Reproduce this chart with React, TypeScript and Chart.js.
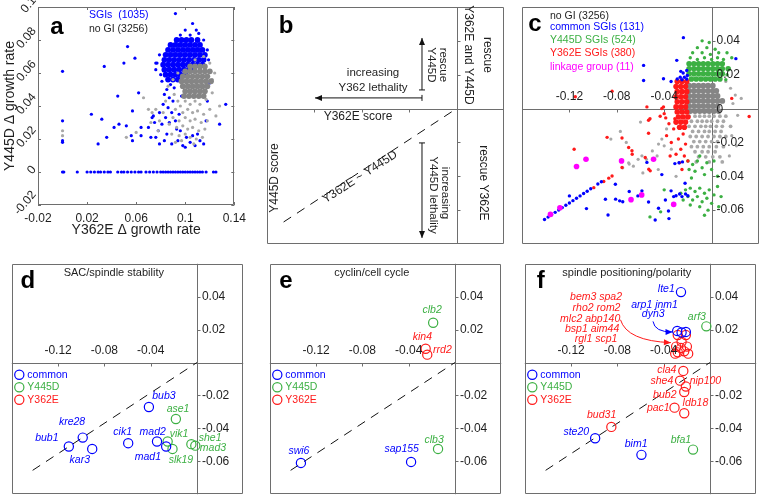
import React, { useEffect, useRef } from "react";
import { Chart, registerables } from "chart.js";

Chart.register(...registerables);

const FONT = '"Liberation Sans", Arial, Helvetica, sans-serif';
const BLUE = "#0000ff";
const GREEN = "#3cb043";
const RED = "#ff1a1a";
const MAGENTA = "#ff00ff";
const GRAY = "#858585";
const GRAY_LIGHT = "#a8a8a8";
const AXIS = "#6e6e6e";
const INK = "#1e1e1e";

type Row = [number, number[]];
type XY = [number, number];
type Gene = [string, number, number];
type Label = [string, number, number];

// ---------------- panel a ----------------
const aXTicks = [-0.02, 0.02, 0.06, 0.1, 0.14];
const aXTickLabels = ["-0.02", "0.02", "0.06", "0.1", "0.14"];
const aYTicks = [-0.02, 0, 0.02, 0.04, 0.06, 0.08, 0.1];
const aYTickLabels = ["-0.02", "0", "0.02", "0.04", "0.06", "0.08", "0.1"];
const aLegendLabels = ["SGIs  (1035)", "no GI (3256)"];
const aXTitle = "Y362E \u0394 growth rate";
const aYTitle = "Y445D \u0394 growth rate";

const aSgiCoreRows: Row[] = [
  [0.08, [0.093, 0.097, 0.101, 0.105, 0.11]],
  [0.077, [0.088, 0.092, 0.096, 0.1, 0.104, 0.108, 0.112]],
  [0.074, [0.086, 0.09, 0.094, 0.098, 0.102, 0.106, 0.11, 0.114]],
  [0.071, [0.084, 0.088, 0.092, 0.096, 0.1, 0.104, 0.108, 0.112, 0.116]],
  [0.068, [0.083, 0.087, 0.091, 0.095, 0.099, 0.103, 0.107, 0.111, 0.115]],
  [0.065, [0.082, 0.086, 0.09, 0.094, 0.098, 0.102, 0.106, 0.11, 0.114]],
  [0.062, [0.083, 0.087, 0.091, 0.095, 0.099, 0.103, 0.107]],
  [0.059, [0.084, 0.088, 0.092, 0.096, 0.1]],
  [0.056, [0.086, 0.09, 0.094]],
];
const aSgiZeroRowX = [
  0.0, 0.001, 0.012, 0.02, 0.023, 0.026, 0.029, 0.031, 0.034, 0.037, 0.039, 0.045, 0.048, 0.05, 0.053,
  0.056, 0.059, 0.062, 0.064, 0.068, 0.071, 0.074, 0.077, 0.08, 0.082, 0.084, 0.086, 0.088, 0.09, 0.092,
  0.094, 0.096, 0.098, 0.1, 0.102, 0.104, 0.106, 0.108, 0.11, 0.112, 0.114, 0.117, 0.123, 0.125,
];
const aSgiScatter: XY[] = [
  [0.092, 0.096], [0.106, 0.09], [0.1, 0.086], [0.109, 0.086], [0.096, 0.083], [0.104, 0.083], [0.111, 0.084],
  [0.115, 0.08], [0.118, 0.074], [0.119, 0.068], [0.079, 0.071], [0.077, 0.066], [0.076, 0.062], [0.08, 0.059],
  [0.081, 0.055], [0.088, 0.053], [0.085, 0.05], [0.091, 0.051], [0.083, 0.047], [0.087, 0.045], [0.09, 0.043],
  [0.082, 0.041], [0.086, 0.039], [0.079, 0.036], [0.089, 0.036], [0.084, 0.033], [0.081, 0.029], [0.087, 0.03],
  [0.092, 0.031], [0.078, 0.025], [0.085, 0.023], [0.083, 0.019], [0.079, 0.017], [0.089, 0.017], [0.094, 0.019],
  [0.098, 0.016], [0.1, 0.015], [0.104, 0.018], [0.108, 0.016], [0.112, 0.019], [0.115, 0.017], [0.101, 0.021],
  [0.106, 0.022], [0.11, 0.023], [0.096, 0.025], [0.093, 0.026], [0.12, 0.054], [0.118, 0.043], [0.128, 0.029],
  [0.133, 0.041], [0.117, 0.031], [0.075, 0.03], [0.074, 0.034], [0.076, 0.021], [0.095, 0.035], [0.097, 0.046],
  [0.0, 0.061], [0.0, 0.031], [0.0, 0.019], [0.0, 0.018], [0.0235, 0.035], [0.032, 0.032], [0.029, 0.017],
  [0.036, 0.021], [0.034, 0.064], [0.042, 0.027], [0.045, 0.046], [0.046, 0.029], [0.05, 0.066], [0.053, 0.076],
  [0.052, 0.028], [0.056, 0.022], [0.057, 0.019], [0.057, 0.037], [0.059, 0.069], [0.062, 0.048], [0.064, 0.027],
  [0.064, 0.022], [0.07, 0.027], [0.072, 0.021], [0.076, 0.066], [0.073, 0.033],
];
const aNoGiCoreRows: Row[] = [
  [0.064, [0.104, 0.108, 0.112, 0.116]],
  [0.061, [0.1, 0.104, 0.108, 0.112, 0.116, 0.12]],
  [0.058, [0.098, 0.102, 0.106, 0.11, 0.114, 0.118]],
  [0.055, [0.097, 0.101, 0.105, 0.109, 0.113, 0.117, 0.121]],
  [0.052, [0.098, 0.102, 0.106, 0.11, 0.114, 0.118]],
  [0.049, [0.1, 0.104, 0.108, 0.112, 0.116]],
  [0.046, [0.099, 0.103, 0.107, 0.111, 0.115]],
];
const aNoGiScatter: XY[] = [
  [0.091, 0.047], [0.094, 0.043], [0.096, 0.04], [0.1, 0.043], [0.104, 0.041], [0.108, 0.043], [0.112, 0.041],
  [0.117, 0.044], [0.122, 0.048], [0.092, 0.038], [0.098, 0.036], [0.102, 0.038], [0.106, 0.036], [0.11, 0.037],
  [0.115, 0.035], [0.09, 0.033], [0.095, 0.031], [0.1, 0.033], [0.104, 0.031], [0.108, 0.032], [0.113, 0.03],
  [0.118, 0.031], [0.087, 0.029], [0.093, 0.027], [0.098, 0.028], [0.102, 0.026], [0.106, 0.027], [0.111, 0.025],
  [0.116, 0.026], [0.089, 0.023], [0.095, 0.022], [0.1, 0.023], [0.104, 0.021], [0.109, 0.02], [0.114, 0.021],
  [0.092, 0.018], [0.097, 0.019], [0.107, 0.017], [0.07, 0.038], [0.073, 0.036], [0.076, 0.038], [0.079, 0.031],
  [0.072, 0.03], [0.082, 0.036], [0.084, 0.043], [0.125, 0.034], [0.128, 0.04], [0.12, 0.038], [0.122, 0.056],
  [0.124, 0.06], [0.12, 0.066], [0.115, 0.07], [0.108, 0.068], [0.0, 0.025], [0.0, 0.022], [0.052, 0.021],
  [0.06, 0.024], [0.066, 0.045], [0.078, 0.025], [0.086, 0.052], [0.09, 0.056], [0.094, 0.06],
];

// ---------------- shared crossing-axis panels ----------------
const X_MIN = -0.16;
const X_MAX = 0.04;
const Y_MIN = -0.08;
const Y_MAX = 0.06;
const crossXTicks = [-0.12, -0.08, -0.04];
const crossXTickLabels = ["-0.12", "-0.08", "-0.04"];
const crossYTicks = [0.04, 0.02, -0.02, -0.04, -0.06];
const crossYTickLabels = ["0.04", "0.02", "-0.02", "-0.04", "-0.06"];
const cYTicks = [0.04, 0.02, 0, -0.02, -0.04, -0.06];
const cYTickLabels = ["0.04", "0.02", "0", "-0.02", "-0.04", "-0.06"];
const groupLegendLabels = ["common", "Y445D", "Y362E"];

// ---------------- panel b ----------------
const bDiagonal: XY[] = [[-0.146, -0.067], [0, 0]];
const bArrows: [XY, XY][] = [
  [[-0.0292, 0.011], [-0.0292, 0.0417]],
  [[-0.0292, 0.0063], [-0.1195, 0.0063]],
  [[-0.0292, -0.0203], [-0.0292, -0.0764]],
];
// text, x, y, rotation (deg), size
const bTexts: [string, number, number, number, number][] = [
  ["increasing", -0.0705, 0.021, 0, 11.5],
  ["Y362 lethality", -0.0705, 0.0122, 0, 11.5],
  ["rescue", -0.0115, 0.0258, 90, 11.5],
  ["Y445D", -0.0216, 0.0258, 90, 11.5],
  ["rescue", 0.0256, 0.0317, 90, 12],
  ["Y362E and Y445D", 0.0096, 0.0317, 90, 12],
  ["rescue Y362E", 0.0223, -0.0439, 90, 12],
  ["increasing", -0.0098, -0.0499, 90, 11.5],
  ["Y445D lethality", -0.0199, -0.0511, 90, 11.5],
  ["Y362E score", -0.0832, -0.005, 0, 12],
  ["Y445D score", -0.1532, -0.041, -90, 12],
  ["Y362E ~ Y445D", -0.0815, -0.0404, -33, 12],
];

// ---------------- panel c ----------------
const cLegendLabels = ["no GI (3256)", "common SGIs (131)", "Y445D SGIs (524)", "Y362E SGIs (380)", "linkage group (11)"];
const cNoGiCoreRows: Row[] = [
  [0.0135, [-0.019, -0.015, -0.011, -0.007, -0.003, 0.001]],
  [0.0105, [-0.019, -0.015, -0.011, -0.007, -0.003, 0.001, 0.004]],
  [0.0075, [-0.019, -0.015, -0.011, -0.007, -0.003, 0.001, 0.005]],
  [0.0045, [-0.019, -0.015, -0.011, -0.007, -0.003, 0.001, 0.005, 0.009]],
  [0.0015, [-0.019, -0.015, -0.011, -0.007, -0.003, 0.001, 0.005]],
  [-0.0015, [-0.018, -0.014, -0.01, -0.006, -0.002, 0.002, 0.006]],
];
const cNoGiRows: Row[] = [
  [-0.0045, [-0.019, -0.014, -0.01, -0.006, -0.002, 0.002, 0.007, 0.012]],
  [-0.0075, [-0.017, -0.012, -0.008, -0.004, 0.0, 0.005, 0.01]],
  [-0.0105, [-0.019, -0.014, -0.009, -0.005, -0.001, 0.004, 0.009, 0.016]],
  [-0.0135, [-0.016, -0.011, -0.006, -0.002, 0.003, 0.008]],
  [-0.0165, [-0.018, -0.013, -0.008, -0.003, 0.002, 0.007, 0.012]],
  [-0.0195, [-0.015, -0.01, -0.005, 0.0, 0.005]],
  [-0.0225, [-0.017, -0.012, -0.007, -0.002, 0.004, 0.01]],
  [-0.0255, [-0.014, -0.008, -0.003, 0.003]],
  [-0.0285, [-0.011, -0.005, 0.001, 0.007]],
  [-0.0315, [-0.013, -0.002, 0.009]],
];
const cNoGiScatter: XY[] = [
  [0.018, 0.003], [0.022, -0.004], [0.02, 0.008], [0.016, 0.012], [0.025, 0.006], [0.017, -0.016], [0.021, -0.022],
  [0.015, -0.028], [0.012, 0.016], [-0.034, -0.024], [-0.04, -0.022], [-0.046, -0.028], [-0.05, -0.025],
  [-0.055, -0.03], [-0.062, -0.03], [-0.066, -0.034], [-0.07, -0.032], [-0.075, -0.035], [-0.058, -0.038],
  [-0.045, -0.036], [-0.038, -0.012], [-0.042, -0.018], [-0.03, -0.04], [-0.06, -0.008], [-0.072, -0.02],
  [-0.085, -0.018], [-0.077, -0.0135], [-0.0588, -0.0279], [-0.0448, -0.021], [-0.0695, -0.0328],
];
const cY445DCoreRows: Row[] = [
  [0.0265, [-0.019, -0.015, -0.011, -0.007, -0.003, 0.001, 0.005, 0.009]],
  [0.0235, [-0.019, -0.015, -0.011, -0.007, -0.003, 0.001, 0.005, 0.009, 0.014]],
  [0.0205, [-0.019, -0.015, -0.011, -0.007, -0.003, 0.001, 0.005, 0.009]],
  [0.0175, [-0.017, -0.013, -0.009, -0.005, -0.001, 0.003, 0.007]],
];
const cY445DScatter: XY[] = [
  [-0.008, 0.04], [-0.002, 0.039], [-0.012, 0.036], [-0.004, 0.036], [0.003, 0.035], [-0.016, 0.033],
  [-0.008, 0.033], [-0.001, 0.032], [0.006, 0.033], [0.013, 0.033], [-0.018, 0.03], [-0.012, 0.029],
  [-0.006, 0.03], [0.0, 0.029], [0.005, 0.03], [0.01, 0.029], [0.017, 0.03], [0.013, 0.02], [0.012, 0.017],
  [-0.02, -0.031], [-0.016, -0.033], [-0.012, -0.031], [-0.008, -0.035], [-0.004, -0.032], [0.0, -0.036],
  [-0.014, -0.037], [-0.019, -0.036], [-0.006, -0.039], [0.002, -0.031], [-0.01, -0.028], [0.005, -0.04],
  [-0.017, -0.041], [-0.026, -0.05], [-0.022, -0.048], [-0.018, -0.047], [-0.014, -0.049], [-0.01, -0.047],
  [-0.006, -0.05], [-0.002, -0.048], [0.002, -0.051], [-0.024, -0.054], [-0.02, -0.052], [-0.016, -0.054],
  [-0.012, -0.052], [-0.008, -0.055], [-0.004, -0.053], [0.0, -0.056], [-0.018, -0.057], [-0.01, -0.058],
  [-0.003, -0.06], [0.005, -0.046], [0.008, -0.052], [-0.04, -0.048], [-0.043, -0.061], [-0.052, -0.064],
  [-0.006, -0.063], [0.006, -0.058],
];
const cY362ECoreRows: Row[] = [
  [0.016, [-0.029, -0.025, -0.021]],
  [0.013, [-0.03, -0.026, -0.022]],
  [0.01, [-0.029, -0.025, -0.021]],
  [0.007, [-0.03, -0.026, -0.022]],
  [0.004, [-0.029, -0.025, -0.021]],
  [0.001, [-0.03, -0.026, -0.022]],
  [-0.002, [-0.029, -0.025, -0.021]],
  [-0.005, [-0.028, -0.024, -0.02]],
  [-0.008, [-0.03, -0.026, -0.022]],
  [-0.011, [-0.027, -0.023]],
];
const cY362EScatter: XY[] = [
  [-0.024, -0.015], [-0.028, -0.018], [-0.022, -0.021], [-0.032, -0.012], [-0.026, -0.024], [-0.03, -0.027],
  [-0.023, -0.028], [-0.034, -0.02], [-0.02, -0.031], [-0.027, -0.032], [-0.036, -0.009], [-0.038, -0.016],
  [-0.031, -0.006], [-0.025, -0.036], [-0.035, -0.028], [-0.04, -0.003], [-0.115, 0.007], [-0.084, 0.0103],
  [-0.0546, 0.001], [-0.0406, 0.001], [-0.0532, -0.0069], [-0.0434, -0.0045], [-0.0882, -0.017],
  [-0.0756, -0.0174], [-0.116, -0.024], [-0.07, -0.023], [-0.067, -0.027], [-0.056, -0.0289], [-0.0756, -0.0348],
  [-0.053, -0.0358], [0.0317, -0.0047], [0.017, 0.006], [-0.0387, -0.0055], [-0.042, 0.0], [-0.052, -0.006],
  [-0.0994, -0.0467], [-0.091, -0.0431], [-0.0868, -0.0411], [-0.084, -0.0398], [-0.0672, -0.0249],
  [-0.0532, -0.0146], [-0.0518, -0.0368],
];
const cCommonScatter: XY[] = [
  [-0.141, -0.0655], [-0.138, -0.0641], [-0.135, -0.0627], [-0.132, -0.0613], [-0.129, -0.0599], [-0.126, -0.0585],
  [-0.123, -0.0571], [-0.12, -0.0558], [-0.117, -0.0544], [-0.114, -0.053], [-0.111, -0.0516], [-0.108, -0.0502],
  [-0.105, -0.0488], [-0.102, -0.0474], [-0.096, -0.0446], [-0.093, -0.0432],
  [-0.12, -0.0516], [-0.1056, -0.0591], [-0.0896, -0.0536], [-0.0874, -0.0629], [-0.0812, -0.0447],
  [-0.081, -0.0535], [-0.0776, -0.0545], [-0.075, -0.055], [-0.0695, -0.049], [-0.0622, -0.0516],
  [-0.0588, -0.0486], [-0.0532, -0.0552], [-0.0448, -0.0589], [-0.0476, -0.0658], [-0.0364, -0.0605],
  [-0.0342, -0.0486], [-0.039, -0.054], [-0.032, -0.052], [-0.03, -0.0515], [-0.027, -0.0505], [-0.025, -0.052],
  [-0.022, -0.0505], [-0.02, -0.0515], [-0.042, -0.039], [-0.0546, -0.0318], [-0.031, -0.0325], [-0.0275, -0.032],
  [-0.0246, -0.0315], [-0.0224, -0.0441], [-0.036, -0.065],
  [-0.0238, 0.0419], [-0.0294, 0.0285], [-0.026, 0.022], [-0.024, 0.021], [-0.021, 0.0225], [-0.023, 0.0185],
  [-0.0205, 0.0195], [-0.0265, 0.0185], [-0.021, 0.0175], [-0.025, 0.017], [-0.029, 0.0175], [-0.0406, 0.0176],
  [-0.0574, 0.0255], [-0.0574, 0.0166], [-0.0342, 0.016], [0.0205, 0.0295],
];
const cLinkage: XY[] = [
  [-0.136, -0.0625], [-0.128, -0.0586], [-0.114, -0.0342], [-0.106, -0.0299], [-0.076, -0.0309],
  [-0.049, -0.0299], [-0.068, -0.0538], [-0.059, -0.051], [-0.032, -0.0566],
];

// ---------------- panels d, e, f ----------------
const diagonal: XY[] = [[-0.142, -0.0655], [0, 0]];

const dTitle = "SAC/spindle stability";
const dCommon: Gene[] = [
  ["bub1", -0.1107, -0.051], ["kre28", -0.0987, -0.0456], ["kar3", -0.0905, -0.0525], ["cik1", -0.0594, -0.049],
  ["mad2", -0.0345, -0.048], ["mad1", -0.0266, -0.051], ["bub3", -0.0415, -0.027],
];
const dY445D: Gene[] = [
  ["ase1", -0.0182, -0.0343], ["vik1", -0.0253, -0.048], ["slk19", -0.0211, -0.0525], ["she1", -0.0048, -0.0496],
  ["mad3", -0.0014, -0.0505],
];
const dY362E: Gene[] = [];
const dLabelPos: Record<string, XY> = {
  bub1: [-0.1297, -0.046], kre28: [-0.1079, -0.0363], kar3: [-0.1012, -0.0594], cik1: [-0.0642, -0.0421],
  mad2: [-0.0382, -0.0421], mad1: [-0.0424, -0.0575], bub3: [-0.0285, -0.0205], ase1: [-0.0163, -0.0282],
  vik1: [-0.0155, -0.0437], slk19: [-0.0138, -0.0591], she1: [0.0114, -0.0456], mad3: [0.0139, -0.052],
};

const eTitle = "cyclin/cell cycle";
const eCommon: Gene[] = [["swi6", -0.1331, -0.061], ["sap155", -0.0379, -0.0604]];
const eY445D: Gene[] = [["clb2", -0.0188, 0.0242], ["clb3", -0.0146, -0.0525]];
const eY362E: Gene[] = [["kin4", -0.0253, 0.0084], ["rrd2", -0.0239, 0.0048]];
const eLabelPos: Record<string, XY> = {
  clb2: [-0.0197, 0.0319], kin4: [-0.0281, 0.0153], rrd2: [-0.0108, 0.0078], swi6: [-0.1348, -0.0535],
  sap155: [-0.046, -0.0525], clb3: [-0.018, -0.047],
};

const fTitle = "spindle positioning/polarity";
const fCommon: Gene[] = [
  ["lte1", -0.025, 0.0428], ["arp1", -0.0283, 0.0192], ["jnm1", -0.0245, 0.0183], ["dyn3", -0.0208, 0.0186],
  ["ste20", -0.0992, -0.046], ["bim1", -0.0592, -0.0561],
];
const fY445D: Gene[] = [["arf3", -0.0031, 0.022], ["bfa1", -0.0146, -0.0529]];
const fY362E: Gene[] = [
  ["bem3", -0.0278, 0.0167], ["spa2", -0.0208, 0.0167], ["rho2", -0.0245, 0.0127], ["rom2", -0.0292, 0.0097],
  ["mlc2", -0.0199, 0.0097], ["abp140", -0.025, 0.0088], ["bsp1", -0.0278, 0.0062], ["aim44", -0.0222, 0.0068],
  ["rgl1", -0.0188, 0.0054], ["scp1", -0.03, 0.0054], ["cla4", -0.023, -0.0051], ["she4", -0.0258, -0.011],
  ["nip100", -0.0208, -0.0146], ["bub2", -0.0222, -0.0179], ["pac1", -0.0306, -0.0274], ["ldb18", -0.0222, -0.0308],
  ["bud31", -0.0852, -0.0391],
];
const fLabelPos: Record<string, XY> = {
  lte1: [-0.0377, 0.0444], arf3: [-0.0113, 0.0279], cla4: [-0.0373, -0.0047], she4: [-0.0415, -0.011],
  nip100: [-0.0039, -0.011], bub2: [-0.039, -0.0199], pac1: [-0.0446, -0.0278], ldb18: [-0.0125, -0.0249],
  bud31: [-0.0936, -0.0318], ste20: [-0.1155, -0.0421], bim1: [-0.0638, -0.0496], bfa1: [-0.025, -0.047],
};
const fRedGroup: Label[] = [
  ["bem3 spa2", -0.0984, 0.0398], ["rho2 rom2", -0.098, 0.0333], ["mlc2 abp140", -0.1035, 0.0266],
  ["bsp1 aim44", -0.1018, 0.0201], ["rgl1 scp1", -0.0984, 0.0145],
];
const fBlueGroup: Label[] = [["arp1 jnm1", -0.0478, 0.0349], ["dyn3", -0.049, 0.0293]];
const fBlueArrow: XY[] = [[-0.0492, 0.025], [-0.0478, 0.0184], [-0.0323, 0.0186]];
const fRedArrow: XY[] = [[-0.0773, 0.026], [-0.0717, 0.0131], [-0.0337, 0.0121]];

// ---------------- helpers ----------------
const rowPts = (r: Row[]) => r.flatMap(([y, xs]) => xs.map((x) => ({ x, y })));
const toPts = (a: XY[]) => a.map(([x, y]) => ({ x, y }));
const genePts = (g: Gene[]) => g.map(([, x, y]) => ({ x, y }));

const dots = (data: any[], color: string, r: number) => ({
  data, showLine: false, pointRadius: r, pointBorderWidth: 0,
  pointBackgroundColor: color, pointBorderColor: color, pointHoverRadius: r,
});
const rings = (data: any[], color: string) => ({
  data, showLine: false, pointRadius: 4.6, pointBorderWidth: 1.2,
  pointBackgroundColor: "rgba(0,0,0,0)", pointBorderColor: color,
});
const dashed = (data: any[]) => ({
  data, showLine: true, pointRadius: 0, borderColor: "#111", borderWidth: 1, borderDash: [9, 7], fill: false,
});

function drawText(ctx: any, s: string, x: number, y: number, font: string, color: string,
  align: string = "center", rot = 0, baseline: string = "middle") {
  ctx.save();
  ctx.translate(x, y);
  if (rot) ctx.rotate(rot);
  ctx.font = font;
  ctx.fillStyle = color;
  ctx.textAlign = align;
  ctx.textBaseline = baseline;
  ctx.fillText(s, 0, 0);
  ctx.restore();
}
const f = (size: number, style = "") => `${style} ${size}px ${FONT}`.trim();

function letter(ctx: any, s: string, x: number, y: number) {
  drawText(ctx, s, x, y, f(24, "bold"), "#000");
}

function arrowHead(ctx: any, x: number, y: number, ang: number, len = 7, half = 3) {
  ctx.beginPath();
  ctx.moveTo(x, y);
  ctx.lineTo(x - len * Math.cos(ang) + half * Math.sin(ang), y - len * Math.sin(ang) - half * Math.cos(ang));
  ctx.lineTo(x - len * Math.cos(ang) - half * Math.sin(ang), y - len * Math.sin(ang) + half * Math.cos(ang));
  ctx.closePath();
  ctx.fill();
}

type CrossSpec = {
  yTicks: number[];
  yLabels: string[] | null;
  xLabels: string[] | null;
  draw: (ctx: any, P: (x: number, y: number) => [number, number], ca: any) => void;
};

function crossPlugin(spec: CrossSpec) {
  return {
    id: "crossAxes",
    beforeDatasetsDraw(chart: any) {
      const { ctx, chartArea: ca, scales } = chart;
      const sx = scales.x;
      const sy = scales.y;
      const x0 = Math.round(sx.getPixelForValue(0)) + 0.5;
      const y0 = Math.round(sy.getPixelForValue(0)) + 0.5;
      ctx.save();
      ctx.strokeStyle = AXIS;
      ctx.lineWidth = 1;
      ctx.beginPath();
      ctx.rect(Math.round(ca.left) + 0.5, Math.round(ca.top) + 0.5, Math.round(ca.right - ca.left) - 1, Math.round(ca.bottom - ca.top) - 1);
      ctx.moveTo(x0, ca.top);
      ctx.lineTo(x0, ca.bottom);
      ctx.moveTo(ca.left, y0);
      ctx.lineTo(ca.right, y0);
      crossXTicks.forEach((v) => {
        const p = Math.round(sx.getPixelForValue(v)) + 0.5;
        ctx.moveTo(p, y0);
        ctx.lineTo(p, y0 + 3);
      });
      spec.yTicks.forEach((v) => {
        if (v === 0) return;
        const p = Math.round(sy.getPixelForValue(v)) + 0.5;
        ctx.moveTo(x0, p);
        ctx.lineTo(x0 + 3, p);
      });
      ctx.stroke();
      ctx.restore();
    },
    afterDatasetsDraw(chart: any) {
      const { ctx, chartArea: ca, scales } = chart;
      const sx = scales.x;
      const sy = scales.y;
      const P = (x: number, y: number): [number, number] => [sx.getPixelForValue(x), sy.getPixelForValue(y)];
      const x0 = sx.getPixelForValue(0);
      const y0 = sy.getPixelForValue(0);
      if (spec.xLabels) {
        crossXTicks.forEach((v, i) => drawText(ctx, spec.xLabels![i], sx.getPixelForValue(v), y0 - 12, f(12), INK));
      }
      if (spec.yLabels) {
        spec.yTicks.forEach((v, i) =>
          drawText(ctx, spec.yLabels![i], x0 + 5, sy.getPixelForValue(v) + (v === 0 ? 1 : 0), f(12), INK, "left"));
      }
      spec.draw(ctx, P, ca);
    },
  };
}

function crossConfig(datasets: any[], spec: CrossSpec) {
  return {
    type: "scatter",
    data: { datasets },
    options: {
      animation: false,
      responsive: false,
      devicePixelRatio: 1,
      events: [],
      layout: { padding: 3 },
      plugins: { legend: { display: false }, tooltip: { enabled: false } },
      scales: {
        x: { type: "linear", display: false, min: X_MIN, max: X_MAX },
        y: { type: "linear", display: false, min: Y_MIN, max: Y_MAX },
      },
    },
    plugins: [crossPlugin(spec)],
  };
}

function drawGroupLegend(ctx: any, ca: any) {
  const colors = [BLUE, GREEN, RED];
  const rowsY = [111, 123.5, 136];
  groupLegendLabels.forEach((s, i) => {
    ctx.save();
    ctx.strokeStyle = colors[i];
    ctx.lineWidth = 1.2;
    ctx.beginPath();
    ctx.arc(ca.left + 7.5, ca.top + rowsY[i], 4.6, 0, Math.PI * 2);
    ctx.stroke();
    ctx.restore();
    drawText(ctx, s, ca.left + 15.5, ca.top + rowsY[i], f(10.5), colors[i], "left");
  });
}

function drawGeneLabels(ctx: any, P: any, genes: Gene[], pos: Record<string, XY>, color: string) {
  genes.forEach(([name]) => {
    const p = pos[name];
    if (!p) return;
    const [px, py] = P(p[0], p[1]);
    drawText(ctx, name, px, py, f(10.5, "italic"), color);
  });
}

function groupPanel(title: string, common: Gene[], y445d: Gene[], y362e: Gene[], pos: Record<string, XY>,
  ltr: string, extra?: (ctx: any, P: any) => void) {
  return crossConfig(
    [
      rings(genePts(common), BLUE),
      rings(genePts(y445d), GREEN),
      rings(genePts(y362e), RED),
      dashed(toPts(diagonal)),
    ],
    {
      yTicks: crossYTicks,
      yLabels: crossYTickLabels,
      xLabels: crossXTickLabels,
      draw: (ctx, P, ca) => {
        drawText(ctx, title, ca.left + 102, ca.top + 9, f(11), INK);
        letter(ctx, ltr, ca.left + 16, ca.top + 18);
        drawGroupLegend(ctx, ca);
        drawGeneLabels(ctx, P, common, pos, BLUE);
        drawGeneLabels(ctx, P, y445d, pos, GREEN);
        drawGeneLabels(ctx, P, y362e, pos, RED);
        if (extra) extra(ctx, P);
      },
    }
  );
}

// ---------------- configs ----------------
const aPlugin = {
  id: "panelA",
  afterDatasetsDraw(chart: any) {
    const { ctx, chartArea: ca, scales } = chart;
    const sx = scales.x;
    const sy = scales.y;
    ctx.save();
    ctx.strokeStyle = AXIS;
    ctx.lineWidth = 1;
    ctx.beginPath();
    ctx.rect(Math.round(ca.left) + 0.5, Math.round(ca.top) + 0.5, Math.round(ca.right - ca.left) - 1, Math.round(ca.bottom - ca.top) - 1);
    aXTicks.forEach((v) => {
      const p = Math.round(sx.getPixelForValue(v)) + 0.5;
      ctx.moveTo(p, ca.bottom);
      ctx.lineTo(p, ca.bottom - 3);
      ctx.moveTo(p, ca.top);
      ctx.lineTo(p, ca.top + 3);
    });
    aYTicks.forEach((v) => {
      const p = Math.round(sy.getPixelForValue(v)) + 0.5;
      ctx.moveTo(ca.left, p);
      ctx.lineTo(ca.left + 3, p);
      ctx.moveTo(ca.right, p);
      ctx.lineTo(ca.right - 3, p);
    });
    ctx.stroke();
    ctx.restore();
    const th = (50 * Math.PI) / 180;
    ctx.save();
    ctx.font = f(12);
    aYTicks.forEach((v, i) => {
      const s = aYTickLabels[i];
      const w = ctx.measureText(s).width;
      const cx = ca.left - 4 - (w / 2) * Math.cos(th);
      const cy = sy.getPixelForValue(v) - 2;
      drawText(ctx, s, cx, cy, f(12), INK, "center", -th);
    });
    ctx.restore();
    drawText(ctx, aLegendLabels[0], ca.left + 51, ca.top + 8, f(10.5), BLUE, "left");
    drawText(ctx, aLegendLabels[1], ca.left + 51, ca.top + 22, f(10.5), INK, "left");
    letter(ctx, "a", ca.left + 19, ca.top + 20);
  },
};

function makeA() {
  return {
    type: "scatter",
    data: {
      datasets: [
        dots(rowPts(aNoGiCoreRows), GRAY, 2.9),
        dots(toPts(aNoGiScatter), GRAY_LIGHT, 1.6),
        dots(rowPts(aSgiCoreRows), BLUE, 2.9),
        dots(toPts(aSgiScatter), BLUE, 1.6),
        dots(rowPts([[0, aSgiZeroRowX]]), BLUE, 1.6),
      ],
    },
    options: {
      animation: false,
      responsive: false,
      devicePixelRatio: 1,
      events: [],
      layout: { padding: { top: 7, right: 7, left: 0, bottom: 0 } },
      plugins: { legend: { display: false }, tooltip: { enabled: false } },
      scales: {
        x: {
          type: "linear", position: "bottom", min: -0.02, max: 0.14,
          afterBuildTicks: (s: any) => { s.ticks = aXTicks.map((value) => ({ value })); },
          afterFit: (s: any) => { s.height = 40; },
          grid: { display: false, drawTicks: false },
          border: { display: false },
          ticks: {
            autoSkip: false, maxRotation: 0, minRotation: 0, padding: 6, color: INK,
            font: { family: FONT, size: 12 }, callback: (_v: any, i: number) => aXTickLabels[i],
          },
          title: { display: true, text: aXTitle, color: INK, font: { family: FONT, size: 14 }, padding: { top: 0, bottom: 6 } },
        },
        y: {
          type: "linear", position: "left", min: -0.02, max: 0.1,
          afterBuildTicks: (s: any) => { s.ticks = aYTicks.map((value) => ({ value })); },
          afterFit: (s: any) => { s.width = 38; },
          grid: { display: false, drawTicks: false },
          border: { display: false },
          ticks: { display: false },
          title: { display: true, text: aYTitle, color: INK, font: { family: FONT, size: 14 }, padding: { top: 2, bottom: 0 } },
        },
      },
    },
    plugins: [aPlugin],
  };
}

function makeB() {
  return crossConfig([dashed(toPts(bDiagonal))], {
    yTicks: crossYTicks,
    yLabels: null,
    xLabels: null,
    draw: (ctx, P, ca) => {
      letter(ctx, "b", ca.left + 19, ca.top + 19);
      ctx.save();
      ctx.strokeStyle = "#111";
      ctx.fillStyle = "#111";
      ctx.lineWidth = 1;
      bArrows.forEach(([from, to]) => {
        const [x1, y1] = P(from[0], from[1]);
        const [x2, y2] = P(to[0], to[1]);
        const ang = Math.atan2(y2 - y1, x2 - x1);
        ctx.beginPath();
        ctx.moveTo(x1, y1);
        ctx.lineTo(x2, y2);
        ctx.moveTo(x1 - 3 * Math.sin(ang), y1 + 3 * Math.cos(ang));
        ctx.lineTo(x1 + 3 * Math.sin(ang), y1 - 3 * Math.cos(ang));
        ctx.stroke();
        arrowHead(ctx, x2, y2, ang, 7, 3);
      });
      ctx.restore();
      bTexts.forEach(([s, x, y, rot, size]) => {
        const [px, py] = P(x, y);
        drawText(ctx, s, px, py, f(size), INK, "center", (rot * Math.PI) / 180);
      });
    },
  });
}

function makeC() {
  const colors = [INK, BLUE, GREEN, RED, MAGENTA];
  const rowsY = [9, 20.5, 33, 46.5, 60.5];
  return crossConfig(
    [
      dots(toPts(cLinkage), MAGENTA, 2.8),
      dots(toPts(cCommonScatter), BLUE, 1.7),
      dots(rowPts(cY362ECoreRows), RED, 2.8),
      dots(toPts(cY362EScatter), RED, 1.7),
      dots(rowPts(cY445DCoreRows), GREEN, 2.8),
      dots(toPts(cY445DScatter), GREEN, 1.7),
      dots(rowPts(cNoGiCoreRows), GRAY, 2.9),
      dots(rowPts(cNoGiRows), GRAY_LIGHT, 1.9),
      dots(toPts(cNoGiScatter), GRAY_LIGHT, 1.6),
    ],
    {
      yTicks: cYTicks,
      yLabels: cYTickLabels,
      xLabels: crossXTickLabels,
      draw: (ctx, _P, ca) => {
        letter(ctx, "c", ca.left + 13, ca.top + 17);
        cLegendLabels.forEach((s, i) => drawText(ctx, s, ca.left + 28, ca.top + rowsY[i], f(10.5), colors[i], "left"));
      },
    }
  );
}

function makeD() {
  return groupPanel(dTitle, dCommon, dY445D, dY362E, dLabelPos, "d");
}
function makeE() {
  return groupPanel(eTitle, eCommon, eY445D, eY362E, eLabelPos, "e");
}
function makeF() {
  return groupPanel(fTitle, fCommon, fY445D, fY362E, fLabelPos, "f", (ctx, P) => {
    fRedGroup.forEach(([s, x, y]) => {
      const [px, py] = P(x, y);
      drawText(ctx, s, px, py, f(10.5, "italic"), RED);
    });
    fBlueGroup.forEach(([s, x, y]) => {
      const [px, py] = P(x, y);
      drawText(ctx, s, px, py, f(10.5, "italic"), BLUE);
    });
    const curve = (pts: XY[], color: string) => {
      const [a, c, b] = pts.map(([x, y]) => P(x, y));
      ctx.save();
      ctx.strokeStyle = color;
      ctx.fillStyle = color;
      ctx.lineWidth = 1;
      ctx.beginPath();
      ctx.moveTo(a[0], a[1]);
      ctx.quadraticCurveTo(c[0], c[1], b[0], b[1]);
      ctx.stroke();
      arrowHead(ctx, b[0], b[1], Math.atan2(b[1] - c[1], b[0] - c[0]), 7, 3);
      ctx.restore();
    };
    curve(fBlueArrow, BLUE);
    curve(fRedArrow, RED);
  });
}

function ChartCanvas({ left, top, width, height, make }: { left: number; top: number; width: number; height: number; make: () => any }) {
  const ref = useRef<HTMLCanvasElement | null>(null);
  useEffect(() => {
    if (!ref.current) return;
    const chart = new Chart(ref.current, make());
    return () => chart.destroy();
  }, []);
  return (
    <canvas ref={ref} width={width} height={height}
      style={{ position: "absolute", left, top, width, height, display: "block" }} />
  );
}

const box = (l: number, t: number, w: number, h: number) => ({ left: l - 3, top: t - 3, width: w + 6, height: h + 6 });

export default function App() {
  return (
    <div style={{ position: "fixed", left: 0, top: 0, width: 760, height: 500, background: "#fff", overflow: "hidden" }}>
      <ChartCanvas left={0} top={0} width={252} height={245} make={makeA} />
      <ChartCanvas {...box(267, 7, 237, 237)} make={makeB} />
      <ChartCanvas {...box(522, 7, 237, 237)} make={makeC} />
      <ChartCanvas {...box(9, 261, 237, 236)} make={makeD} />
      <ChartCanvas {...box(267, 261, 237, 236)} make={makeE} />
      <ChartCanvas {...box(522, 261, 237, 236)} make={makeF} />
    </div>
  );
}
